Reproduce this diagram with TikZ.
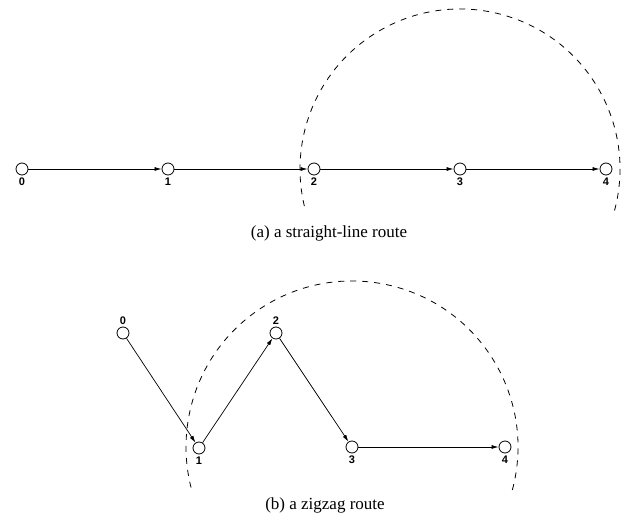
\documentclass[tikz,border=0pt]{standalone}
\usepackage{fontspec}
\setmainfont{Liberation Serif}
\setsansfont{Liberation Sans}
\usetikzlibrary{arrows.meta}

\begin{document}
\begin{tikzpicture}[x=1pt,y=1pt,>={Latex[length=7pt,width=4pt]},
    every label/.style={font=\fontsize{11}{11}\selectfont\sffamily\bfseries, inner sep=2pt}]
    \tikzstyle{site}=[draw, circle, minimum size=12pt, inner sep=0pt, line width=0.8pt,
        label distance=0pt]
    \tikzstyle{hop}=[->, line width=0.7pt]
    \tikzstyle{reach}=[dash pattern=on 6pt off 6pt, line width=0.8pt]
    \tikzstyle{caption}=[font=\fontsize{17}{19}\selectfont]

    \useasboundingbox (0,0) rectangle (633,525);

    % (a) straight-line route
    \node[site, label=below:0] (a0) at (22,356) {};
    \node[site, label=below:1] (a1) at (168,356) {};
    \node[site, label=below:2] (a2) at (314,356) {};
    \node[site, label=below:3] (a3) at (460,356) {};
    \node[site, label=below:4] (a4) at (606,356) {};

    \draw[hop] (a0) -- (a1);
    \draw[hop] (a1) -- (a2);
    \draw[hop] (a2) -- (a3);
    \draw[hop] (a3) -- (a4);
    \draw[reach] (a3) ++(-15:160) arc[start angle=-15, end angle=195, radius=160];

    \node[caption] (capa) at (329,292) {(a) a straight-line route};

    % (b) zigzag route
    \node[site, label=above:0] (b0) at (123,192) {};
    \node[site, label=below:1] (b1) at (199,77) {};
    \node[site, label=above:2] (b2) at (276,192) {};
    \node[site, label=below:3] (b3) at (352,78) {};
    \node[site, label=below:4] (b4) at (505,78) {};

    \draw[hop] (b0) -- (b1);
    \draw[hop] (b1) -- (b2);
    \draw[hop] (b2) -- (b3);
    \draw[hop] (b3) -- (b4);
    \draw[reach] (b3) ++(-15:166) arc[start angle=-15, end angle=195, radius=166];

    \node[caption] (capb) at (325,20) {(b) a zigzag route};
\end{tikzpicture}
\end{document}
